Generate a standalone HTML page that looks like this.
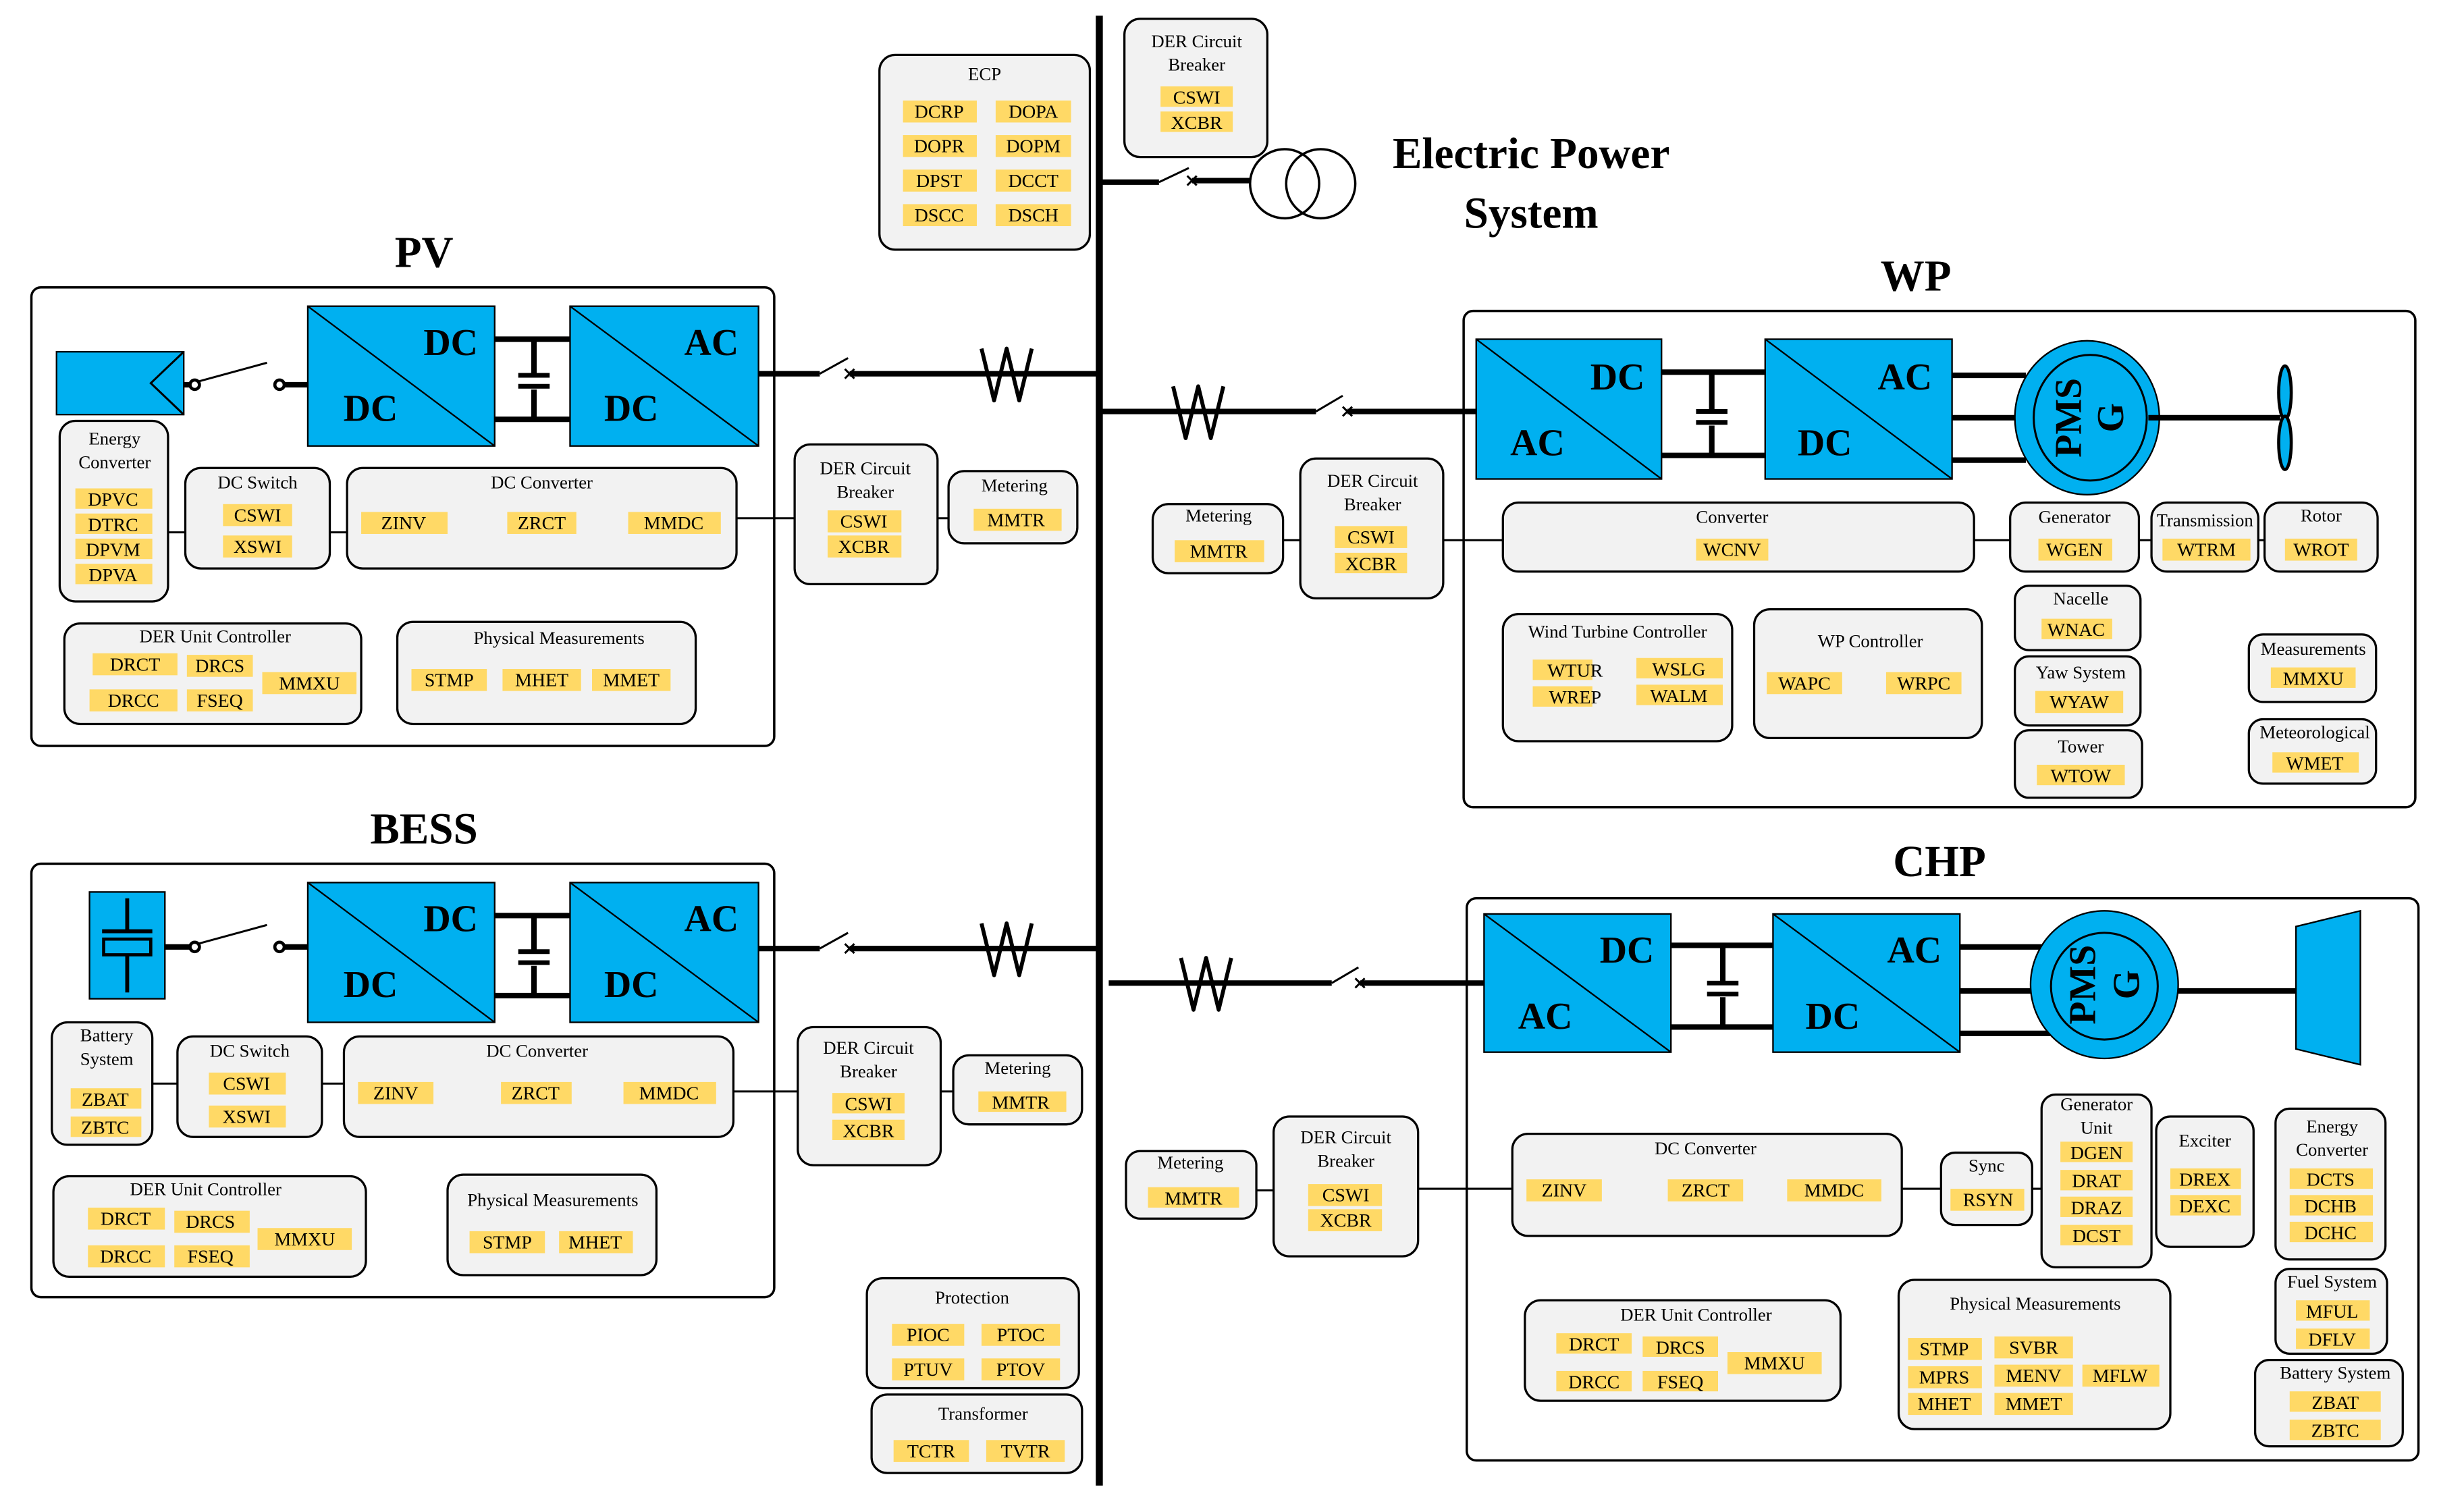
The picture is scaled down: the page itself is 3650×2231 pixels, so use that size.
<!DOCTYPE html>
<html><head><meta charset="utf-8"><style>
html,body{margin:0;padding:0;background:#fff}
svg{display:block}
text{font-family:"Liberation Serif",serif;fill:#000;text-anchor:middle}
.g{fill:#f2f2f2;stroke:#000;stroke-width:1.4}
.y{fill:#ffd966}
.b{fill:#00b0f0;stroke:#000;stroke-width:1}
.t{font-size:11.5px}
.l{font-size:12px}
.big{font-size:24px;font-weight:bold}
.h{font-size:28px;font-weight:bold}
.w{stroke:#000;stroke-width:3.5;fill:none}
.n{stroke:#000;stroke-width:1.3;fill:none}
.z{stroke:#000;stroke-width:2.5;fill:none;stroke-linejoin:round}
</style></head><body>
<svg width="3650" height="2231" viewBox="0 0 1569 959" preserveAspectRatio="none" xmlns="http://www.w3.org/2000/svg">
<!-- bus -->
<line x1="700" y1="10" x2="700" y2="946" stroke="#000" stroke-width="4.5"/>

<!-- ECP -->
<rect class="g" x="560" y="35" width="134" height="124" rx="10"/>
<text class="t" x="627" y="51">ECP</text>
<rect class="y" x="575" y="64" width="47" height="14"/><text class="l" x="598" y="75">DCRP</text>
<rect class="y" x="634" y="64" width="48" height="14"/><text class="l" x="658" y="75">DOPA</text>
<rect class="y" x="575" y="86" width="47" height="14"/><text class="l" x="598" y="97">DOPR</text>
<rect class="y" x="634" y="86" width="48" height="14"/><text class="l" x="658" y="97">DOPM</text>
<rect class="y" x="575" y="108" width="47" height="14"/><text class="l" x="598" y="119">DPST</text>
<rect class="y" x="634" y="108" width="48" height="14"/><text class="l" x="658" y="119">DCCT</text>
<rect class="y" x="575" y="130" width="47" height="14"/><text class="l" x="598" y="141">DSCC</text>
<rect class="y" x="634" y="130" width="48" height="14"/><text class="l" x="658" y="141">DSCH</text>

<!-- Top DER CB -->
<rect class="g" x="716" y="12" width="91" height="88" rx="10"/>
<text class="t" x="762" y="30">DER Circuit</text><text class="t" x="762" y="45">Breaker</text>
<rect class="y" x="739" y="55" width="46" height="13"/><text class="l" x="762" y="66">CSWI</text>
<rect class="y" x="739" y="71" width="46" height="13"/><text class="l" x="762" y="82">XCBR</text>
<path class="w" d="M700 116 H738" stroke-width="3"/>
<path class="n" d="M738 116 L757 107" stroke-width="2.5"/>
<path class="n" d="M756 112 l6 6 M762 112 l-6 6" stroke-width="2"/>
<path class="w" d="M759 115 H796" stroke-width="3"/>
<circle cx="818" cy="117" r="22" fill="#fff" stroke="#000" stroke-width="1.5"/>
<circle cx="841" cy="117" r="22" fill="none" stroke="#000" stroke-width="1.5"/>
<text class="h" x="975" y="107">Electric Power</text>
<text class="h" x="975" y="145">System</text>

<!-- PV -->
<text class="h" x="270" y="170">PV</text>
<rect x="20" y="183" width="473" height="292" rx="6" fill="none" stroke="#000" stroke-width="1.5"/>
<rect class="b" x="36" y="224" width="81" height="40"/>
<path class="n" d="M117 224 L96 244 L117 264"/>
<path class="w" d="M117 245 H121" stroke-width="3"/>
<circle cx="124" cy="245" r="3" fill="#fff" stroke="#000" stroke-width="2"/>
<path class="n" d="M126 243 L170 231" stroke-width="2.5"/>
<circle cx="178" cy="245" r="3" fill="#fff" stroke="#000" stroke-width="2"/>
<path class="w" d="M181 245 H196" stroke-width="3"/>
<rect class="b" x="196" y="195" width="119" height="89"/><line x1="196" y1="195" x2="315" y2="284" stroke="#000" stroke-width="1"/>
<text class="big" x="287" y="226">DC</text><text class="big" x="236" y="268">DC</text>
<path class="w" d="M315 216 H363 M315 267 H363 M340 216 V238 M340 248 V267"/>
<path d="M330 239 H350 M330 246 H350" stroke="#000" stroke-width="3"/>
<rect class="b" x="363" y="195" width="120" height="89"/><line x1="363" y1="195" x2="483" y2="284" stroke="#000" stroke-width="1"/>
<text class="big" x="453" y="226">AC</text><text class="big" x="402" y="268">DC</text>
<path class="w" d="M483 238 H522" stroke-width="3"/>
<path class="n" d="M522 238 L540 228" stroke-width="2.5"/>
<path class="n" d="M538 235 l6 6 M544 235 l-6 6" stroke-width="2"/>
<path class="w" d="M541 238 H700" stroke-width="3"/>
<path class="z" d="M625 222 L633 255 L641 222 L649 255 L657 222"/>
<rect class="g" x="38" y="268" width="69" height="115" rx="10"/>
<text class="t" x="73" y="283">Energy</text><text class="t" x="73" y="298">Converter</text>
<rect class="y" x="48" y="311" width="49" height="13"/><text class="l" x="72" y="322">DPVC</text>
<rect class="y" x="48" y="327" width="49" height="13"/><text class="l" x="72" y="338">DTRC</text>
<rect class="y" x="48" y="343" width="49" height="13"/><text class="l" x="72" y="354">DPVM</text>
<rect class="y" x="48" y="359" width="49" height="13"/><text class="l" x="72" y="370">DPVA</text>
<path class="n" d="M107 339 H118 M210 339 H221 M469 330 H506 M597 330 H604"/>
<rect class="g" x="118" y="298" width="92" height="64" rx="10"/>
<text class="t" x="164" y="311">DC Switch</text>
<rect class="y" x="142" y="321" width="44" height="14"/><text class="l" x="164" y="332">CSWI</text>
<rect class="y" x="142" y="341" width="44" height="14"/><text class="l" x="164" y="352">XSWI</text>
<rect class="g" x="221" y="298" width="248" height="64" rx="10"/>
<text class="t" x="345" y="311">DC Converter</text>
<rect class="y" x="230" y="326" width="55" height="14"/><text class="l" x="257" y="337">ZINV</text>
<rect class="y" x="323" y="326" width="44" height="14"/><text class="l" x="345" y="337">ZRCT</text>
<rect class="y" x="400" y="326" width="59" height="14"/><text class="l" x="429" y="337">MMDC</text>
<rect class="g" x="506" y="283" width="91" height="89" rx="10"/>
<text class="t" x="551" y="302">DER Circuit</text><text class="t" x="551" y="317">Breaker</text>
<rect class="y" x="527" y="325" width="47" height="14"/><text class="l" x="550" y="336">CSWI</text>
<rect class="y" x="527" y="341" width="47" height="14"/><text class="l" x="550" y="352">XCBR</text>
<rect class="g" x="604" y="300" width="82" height="46" rx="10"/>
<text class="t" x="646" y="313">Metering</text>
<rect class="y" x="620" y="324" width="56" height="14"/><text class="l" x="647" y="335">MMTR</text>
<rect class="g" x="41" y="397" width="189" height="64" rx="10"/>
<text class="t" x="137" y="409">DER Unit Controller</text>
<rect class="y" x="59" y="416" width="54" height="14"/><text class="l" x="86" y="427">DRCT</text>
<rect class="y" x="119" y="417" width="42" height="14"/><text class="l" x="140" y="428">DRCS</text>
<rect class="y" x="167" y="428" width="60" height="14"/><text class="l" x="197" y="439">MMXU</text>
<rect class="y" x="57" y="439" width="56" height="14"/><text class="l" x="85" y="450">DRCC</text>
<rect class="y" x="119" y="439" width="42" height="14"/><text class="l" x="140" y="450">FSEQ</text>
<rect class="g" x="253" y="396" width="190" height="65" rx="10"/>
<text class="t" x="356" y="410">Physical Measurements</text>
<rect class="y" x="262" y="426" width="48" height="14"/><text class="l" x="286" y="437">STMP</text>
<rect class="y" x="320" y="426" width="50" height="14"/><text class="l" x="345" y="437">MHET</text>
<rect class="y" x="377" y="426" width="50" height="14"/><text class="l" x="402" y="437">MMET</text>

<!-- BESS -->
<text class="h" x="270" y="537">BESS</text>
<rect x="20" y="550" width="473" height="276" rx="6" fill="none" stroke="#000" stroke-width="1.5"/>
<rect class="b" x="57" y="568" width="48" height="68"/>
<path d="M81 572 V593 M81 608 V632 M65 593 H97" stroke="#000" stroke-width="2.5" fill="none"/>
<rect x="66" y="598" width="30" height="10" fill="none" stroke="#000" stroke-width="2"/>
<path class="w" d="M105 603 H121" stroke-width="3"/>
<circle cx="124" cy="603" r="3" fill="#fff" stroke="#000" stroke-width="2"/>
<path class="n" d="M126 601 L170 589" stroke-width="2.5"/>
<circle cx="178" cy="603" r="3" fill="#fff" stroke="#000" stroke-width="2"/>
<path class="w" d="M181 603 H196" stroke-width="3"/>
<rect class="b" x="196" y="562" width="119" height="89"/><line x1="196" y1="562" x2="315" y2="651" stroke="#000" stroke-width="1"/>
<text class="big" x="287" y="593">DC</text><text class="big" x="236" y="635">DC</text>
<path class="w" d="M315 583 H363 M315 634 H363 M340 583 V605 M340 615 V634"/>
<path d="M330 606 H350 M330 613 H350" stroke="#000" stroke-width="3"/>
<rect class="b" x="363" y="562" width="120" height="89"/><line x1="363" y1="562" x2="483" y2="651" stroke="#000" stroke-width="1"/>
<text class="big" x="453" y="593">AC</text><text class="big" x="402" y="635">DC</text>
<path class="w" d="M483 604 H522" stroke-width="3"/>
<path class="n" d="M522 604 L540 594" stroke-width="2.5"/>
<path class="n" d="M538 601 l6 6 M544 601 l-6 6" stroke-width="2"/>
<path class="w" d="M541 604 H700" stroke-width="3"/>
<path class="z" d="M625 588 L633 621 L641 588 L649 621 L657 588"/>
<rect class="g" x="33" y="651" width="64" height="78" rx="10"/>
<text class="t" x="68" y="663">Battery</text><text class="t" x="68" y="678">System</text>
<rect class="y" x="45" y="693" width="45" height="13"/><text class="l" x="67" y="704">ZBAT</text>
<rect class="y" x="45" y="711" width="45" height="13"/><text class="l" x="67" y="722">ZBTC</text>
<path class="n" d="M97 690 H113 M205 690 H219 M467 695 H508 M599 695 H607"/>
<rect class="g" x="113" y="660" width="92" height="64" rx="10"/>
<text class="t" x="159" y="673">DC Switch</text>
<rect class="y" x="133" y="683" width="49" height="14"/><text class="l" x="157" y="694">CSWI</text>
<rect class="y" x="133" y="704" width="49" height="14"/><text class="l" x="157" y="715">XSWI</text>
<rect class="g" x="219" y="660" width="248" height="64" rx="10"/>
<text class="t" x="342" y="673">DC Converter</text>
<rect class="y" x="228" y="689" width="48" height="14"/><text class="l" x="252" y="700">ZINV</text>
<rect class="y" x="319" y="689" width="45" height="14"/><text class="l" x="341" y="700">ZRCT</text>
<rect class="y" x="397" y="689" width="59" height="14"/><text class="l" x="426" y="700">MMDC</text>
<rect class="g" x="508" y="654" width="91" height="88" rx="10"/>
<text class="t" x="553" y="671">DER Circuit</text><text class="t" x="553" y="686">Breaker</text>
<rect class="y" x="530" y="696" width="46" height="13"/><text class="l" x="553" y="707">CSWI</text>
<rect class="y" x="530" y="713" width="46" height="13"/><text class="l" x="553" y="724">XCBR</text>
<rect class="g" x="607" y="672" width="82" height="44" rx="10"/>
<text class="t" x="648" y="684">Metering</text>
<rect class="y" x="623" y="695" width="56" height="13"/><text class="l" x="650" y="706">MMTR</text>
<rect class="g" x="34" y="749" width="199" height="64" rx="10"/>
<text class="t" x="131" y="761">DER Unit Controller</text>
<rect class="y" x="56" y="769" width="49" height="14"/><text class="l" x="80" y="780">DRCT</text>
<rect class="y" x="111" y="771" width="48" height="14"/><text class="l" x="134" y="782">DRCS</text>
<rect class="y" x="164" y="782" width="60" height="14"/><text class="l" x="194" y="793">MMXU</text>
<rect class="y" x="56" y="793" width="49" height="14"/><text class="l" x="80" y="804">DRCC</text>
<rect class="y" x="111" y="793" width="48" height="14"/><text class="l" x="134" y="804">FSEQ</text>
<rect class="g" x="285" y="748" width="133" height="64" rx="10"/>
<text class="t" x="352" y="768">Physical Measurements</text>
<rect class="y" x="299" y="784" width="48" height="14"/><text class="l" x="323" y="795">STMP</text>
<rect class="y" x="356" y="784" width="47" height="14"/><text class="l" x="379" y="795">MHET</text>

<!-- Protection / Transformer -->
<rect class="g" x="552" y="814" width="135" height="70" rx="10"/>
<text class="t" x="619" y="830">Protection</text>
<rect class="y" x="568" y="843" width="46" height="14"/><text class="l" x="591" y="854">PIOC</text>
<rect class="y" x="625" y="843" width="50" height="14"/><text class="l" x="650" y="854">PTOC</text>
<rect class="y" x="568" y="865" width="46" height="14"/><text class="l" x="591" y="876">PTUV</text>
<rect class="y" x="625" y="865" width="50" height="14"/><text class="l" x="650" y="876">PTOV</text>
<rect class="g" x="555" y="888" width="134" height="50" rx="10"/>
<text class="t" x="626" y="904">Transformer</text>
<rect class="y" x="569" y="917" width="48" height="14"/><text class="l" x="593" y="928">TCTR</text>
<rect class="y" x="628" y="917" width="50" height="14"/><text class="l" x="653" y="928">TVTR</text>

<!-- WP -->
<text class="h" x="1220" y="185">WP</text>
<rect x="932" y="198" width="606" height="316" rx="6" fill="none" stroke="#000" stroke-width="1.5"/>
<path class="w" d="M700 262 H838" stroke-width="3"/>
<path class="z" d="M747 246 L755 279 L763 246 L771 279 L779 246"/>
<path class="n" d="M838 262 L855 252" stroke-width="2.5"/>
<path class="n" d="M855 259 l6 6 M861 259 l-6 6" stroke-width="2"/>
<path class="w" d="M858 262 H940" stroke-width="3"/>
<rect class="b" x="940" y="216" width="118" height="89"/><line x1="940" y1="216" x2="1058" y2="305" stroke="#000" stroke-width="1"/>
<text class="big" x="1030" y="248">DC</text><text class="big" x="979" y="290">AC</text>
<path class="w" d="M1058 237 H1124 M1058 290 H1124 M1090 237 V261 M1090 271 V290"/>
<path d="M1080 262 H1100 M1080 269 H1100" stroke="#000" stroke-width="3"/>
<rect class="b" x="1124" y="216" width="119" height="89"/><line x1="1124" y1="216" x2="1243" y2="305" stroke="#000" stroke-width="1"/>
<text class="big" x="1213" y="248">AC</text><text class="big" x="1162" y="290">DC</text>
<path class="w" d="M1243 239 H1290 M1243 266 H1290 M1243 293 H1290"/>
<ellipse cx="1329" cy="266" rx="46" ry="49" fill="#00b0f0" stroke="#000" stroke-width="1"/>
<ellipse cx="1331" cy="266" rx="36" ry="40" fill="none" stroke="#000" stroke-width="1.3"/>
<text class="big" transform="translate(1325,266) rotate(-90)" y="0">PMS</text>
<text class="big" transform="translate(1352,266) rotate(-90)" y="0">G</text>
<path class="w" d="M1368 266 H1452" stroke-width="2.5"/>
<ellipse cx="1455" cy="250" rx="4" ry="17" fill="#00b0f0" stroke="#000" stroke-width="2"/>
<ellipse cx="1455" cy="282" rx="4" ry="17" fill="#00b0f0" stroke="#000" stroke-width="2"/>
<path class="n" d="M919 344 H957 M1257 344 H1280 M1362 344 H1370 M1438 344 H1442 M817 344 H828"/>
<rect class="g" x="957" y="320" width="300" height="44" rx="10"/>
<text class="t" x="1103" y="333">Converter</text>
<rect class="y" x="1080" y="343" width="46" height="14"/><text class="l" x="1103" y="354">WCNV</text>
<rect class="g" x="1280" y="320" width="82" height="44" rx="10"/>
<text class="t" x="1321" y="333">Generator</text>
<rect class="y" x="1298" y="343" width="47" height="14"/><text class="l" x="1321" y="354">WGEN</text>
<rect class="g" x="1370" y="320" width="68" height="44" rx="10"/>
<text class="t" x="1404" y="335">Transmission</text>
<rect class="y" x="1377" y="343" width="56" height="14"/><text class="l" x="1405" y="354">WTRM</text>
<rect class="g" x="1442" y="320" width="72" height="44" rx="10"/>
<text class="t" x="1478" y="332">Rotor</text>
<rect class="y" x="1455" y="343" width="46" height="14"/><text class="l" x="1478" y="354">WROT</text>
<rect class="g" x="734" y="321" width="83" height="44" rx="10"/>
<text class="t" x="776" y="332">Metering</text>
<rect class="y" x="748" y="344" width="57" height="14"/><text class="l" x="776" y="355">MMTR</text>
<rect class="g" x="828" y="292" width="91" height="89" rx="10"/>
<text class="t" x="874" y="310">DER Circuit</text><text class="t" x="874" y="325">Breaker</text>
<rect class="y" x="850" y="335" width="46" height="14"/><text class="l" x="873" y="346">CSWI</text>
<rect class="y" x="850" y="352" width="46" height="13"/><text class="l" x="873" y="363">XCBR</text>
<rect class="g" x="957" y="391" width="146" height="81" rx="10"/>
<text class="t" x="1030" y="406">Wind Turbine Controller</text>
<rect class="y" x="976" y="420" width="38" height="13"/><text class="l" x="1003" y="431">WTUR</text>
<rect class="y" x="1042" y="419" width="55" height="13"/><text class="l" x="1069" y="430">WSLG</text>
<rect class="y" x="976" y="437" width="38" height="13"/><text class="l" x="1003" y="448">WREP</text>
<rect class="y" x="1042" y="436" width="55" height="13"/><text class="l" x="1069" y="447">WALM</text>
<rect class="g" x="1117" y="388" width="145" height="82" rx="10"/>
<text class="t" x="1191" y="412">WP Controller</text>
<rect class="y" x="1125" y="428" width="48" height="14"/><text class="l" x="1149" y="439">WAPC</text>
<rect class="y" x="1201" y="428" width="48" height="14"/><text class="l" x="1225" y="439">WRPC</text>
<rect class="g" x="1283" y="373" width="80" height="41" rx="9"/>
<text class="t" x="1325" y="385">Nacelle</text>
<rect class="y" x="1300" y="394" width="45" height="13"/><text class="l" x="1322" y="405">WNAC</text>
<rect class="g" x="1283" y="418" width="80" height="44" rx="9"/>
<text class="t" x="1325" y="432">Yaw System</text>
<rect class="y" x="1296" y="440" width="56" height="14"/><text class="l" x="1324" y="451">WYAW</text>
<rect class="g" x="1283" y="465" width="81" height="43" rx="9"/>
<text class="t" x="1325" y="479">Tower</text>
<rect class="y" x="1297" y="487" width="56" height="13"/><text class="l" x="1325" y="498">WTOW</text>
<rect class="g" x="1432" y="404" width="81" height="43" rx="9"/>
<text class="t" x="1473" y="417">Measurements</text>
<rect class="y" x="1446" y="425" width="54" height="13"/><text class="l" x="1473" y="436">MMXU</text>
<rect class="g" x="1432" y="458" width="81" height="41" rx="9"/>
<text class="t" x="1474" y="470">Meteorological</text>
<rect class="y" x="1447" y="479" width="55" height="13"/><text class="l" x="1474" y="490">WMET</text>

<!-- CHP -->
<text class="h" x="1235" y="558">CHP</text>
<rect x="934" y="572" width="606" height="358" rx="6" fill="none" stroke="#000" stroke-width="1.5"/>
<path class="w" d="M706 626 H848" stroke-width="3"/>
<path class="z" d="M752 610 L760 643 L768 610 L776 643 L784 610"/>
<path class="n" d="M848 626 L865 616" stroke-width="2.5"/>
<path class="n" d="M863 623 l6 6 M869 623 l-6 6" stroke-width="2"/>
<path class="w" d="M866 626 H945" stroke-width="3"/>
<rect class="b" x="945" y="582" width="119" height="88"/><line x1="945" y1="582" x2="1064" y2="670" stroke="#000" stroke-width="1"/>
<text class="big" x="1036" y="613">DC</text><text class="big" x="984" y="655">AC</text>
<path class="w" d="M1064 602 H1129 M1064 654 H1129 M1097 602 V625 M1097 635 V654"/>
<path d="M1087 626 H1107 M1087 633 H1107" stroke="#000" stroke-width="3"/>
<rect class="b" x="1129" y="582" width="119" height="88"/><line x1="1129" y1="582" x2="1248" y2="670" stroke="#000" stroke-width="1"/>
<text class="big" x="1219" y="613">AC</text><text class="big" x="1167" y="655">DC</text>
<path class="w" d="M1248 603 H1310 M1248 631 H1310 M1248 658 H1310"/>
<circle cx="1340" cy="627" r="47" fill="#00b0f0" stroke="#000" stroke-width="1"/>
<circle cx="1340" cy="628" r="34" fill="none" stroke="#000" stroke-width="1.3"/>
<text class="big" transform="translate(1334,627) rotate(-90)">PMS</text>
<text class="big" transform="translate(1362,627) rotate(-90)">G</text>
<path class="w" d="M1387 631 H1462" stroke-width="2.5"/>
<polygon points="1462,590 1503,580 1503,678 1462,668" fill="#00b0f0" stroke="#000" stroke-width="1"/>
<path class="n" d="M800 758 H811 M903 757 H963 M1211 757 H1236 M1294 757 H1300"/>
<rect class="g" x="717" y="733" width="83" height="43" rx="9"/>
<text class="t" x="758" y="744">Metering</text>
<rect class="y" x="731" y="756" width="58" height="13"/><text class="l" x="760" y="767">MMTR</text>
<rect class="g" x="811" y="711" width="92" height="89" rx="10"/>
<text class="t" x="857" y="728">DER Circuit</text><text class="t" x="857" y="743">Breaker</text>
<rect class="y" x="833" y="754" width="47" height="14"/><text class="l" x="857" y="765">CSWI</text>
<rect class="y" x="833" y="770" width="47" height="14"/><text class="l" x="857" y="781">XCBR</text>
<rect class="g" x="963" y="722" width="248" height="65" rx="10"/>
<text class="t" x="1086" y="735">DC Converter</text>
<rect class="y" x="972" y="751" width="48" height="14"/><text class="l" x="996" y="762">ZINV</text>
<rect class="y" x="1062" y="751" width="48" height="14"/><text class="l" x="1086" y="762">ZRCT</text>
<rect class="y" x="1138" y="751" width="60" height="14"/><text class="l" x="1168" y="762">MMDC</text>
<rect class="g" x="1236" y="734" width="58" height="46" rx="9"/>
<text class="t" x="1265" y="746">Sync</text>
<rect class="y" x="1242" y="757" width="47" height="14"/><text class="l" x="1266" y="768">RSYN</text>
<rect class="g" x="1300" y="697" width="70" height="110" rx="9"/>
<text class="t" x="1335" y="707">Generator</text><text class="t" x="1335" y="722">Unit</text>
<rect class="y" x="1312" y="727" width="46" height="13"/><text class="l" x="1335" y="738">DGEN</text>
<rect class="y" x="1312" y="745" width="46" height="13"/><text class="l" x="1335" y="756">DRAT</text>
<rect class="y" x="1312" y="762" width="46" height="13"/><text class="l" x="1335" y="773">DRAZ</text>
<rect class="y" x="1312" y="780" width="46" height="13"/><text class="l" x="1335" y="791">DCST</text>
<rect class="g" x="1373" y="711" width="62" height="83" rx="9"/>
<text class="t" x="1404" y="730">Exciter</text>
<rect class="y" x="1382" y="744" width="45" height="13"/><text class="l" x="1404" y="755">DREX</text>
<rect class="y" x="1382" y="761" width="45" height="13"/><text class="l" x="1404" y="772">DEXC</text>
<rect class="g" x="1449" y="706" width="70" height="96" rx="9"/>
<text class="t" x="1485" y="721">Energy</text><text class="t" x="1485" y="736">Converter</text>
<rect class="y" x="1458" y="744" width="53" height="13"/><text class="l" x="1484" y="755">DCTS</text>
<rect class="y" x="1458" y="761" width="53" height="13"/><text class="l" x="1484" y="772">DCHB</text>
<rect class="y" x="1458" y="778" width="53" height="13"/><text class="l" x="1484" y="789">DCHC</text>
<rect class="g" x="1449" y="808" width="71" height="54" rx="9"/>
<text class="t" x="1485" y="820">Fuel System</text>
<rect class="y" x="1462" y="828" width="47" height="13"/><text class="l" x="1485" y="839">MFUL</text>
<rect class="y" x="1462" y="846" width="47" height="13"/><text class="l" x="1485" y="857">DFLV</text>
<rect class="g" x="1436" y="866" width="94" height="55" rx="9"/>
<text class="t" x="1487" y="878">Battery System</text>
<rect class="y" x="1458" y="886" width="58" height="13"/><text class="l" x="1487" y="897">ZBAT</text>
<rect class="y" x="1458" y="904" width="58" height="13"/><text class="l" x="1487" y="915">ZBTC</text>
<rect class="g" x="971" y="828" width="201" height="64" rx="10"/>
<text class="t" x="1080" y="841">DER Unit Controller</text>
<rect class="y" x="991" y="849" width="48" height="13"/><text class="l" x="1015" y="860">DRCT</text>
<rect class="y" x="1046" y="851" width="48" height="13"/><text class="l" x="1070" y="862">DRCS</text>
<rect class="y" x="1100" y="861" width="60" height="14"/><text class="l" x="1130" y="872">MMXU</text>
<rect class="y" x="991" y="873" width="48" height="13"/><text class="l" x="1015" y="884">DRCC</text>
<rect class="y" x="1046" y="873" width="48" height="13"/><text class="l" x="1070" y="884">FSEQ</text>
<rect class="g" x="1209" y="815" width="173" height="95" rx="10"/>
<text class="t" x="1296" y="834">Physical Measurements</text>
<rect class="y" x="1215" y="852" width="47" height="14"/><text class="l" x="1238" y="863">STMP</text>
<rect class="y" x="1270" y="851" width="50" height="14"/><text class="l" x="1295" y="862">SVBR</text>
<rect class="y" x="1215" y="870" width="47" height="14"/><text class="l" x="1238" y="881">MPRS</text>
<rect class="y" x="1270" y="869" width="50" height="14"/><text class="l" x="1295" y="880">MENV</text>
<rect class="y" x="1326" y="869" width="49" height="14"/><text class="l" x="1350" y="880">MFLW</text>
<rect class="y" x="1215" y="887" width="47" height="14"/><text class="l" x="1238" y="898">MHET</text>
<rect class="y" x="1270" y="887" width="50" height="14"/><text class="l" x="1295" y="898">MMET</text>
</svg>
</body></html>
